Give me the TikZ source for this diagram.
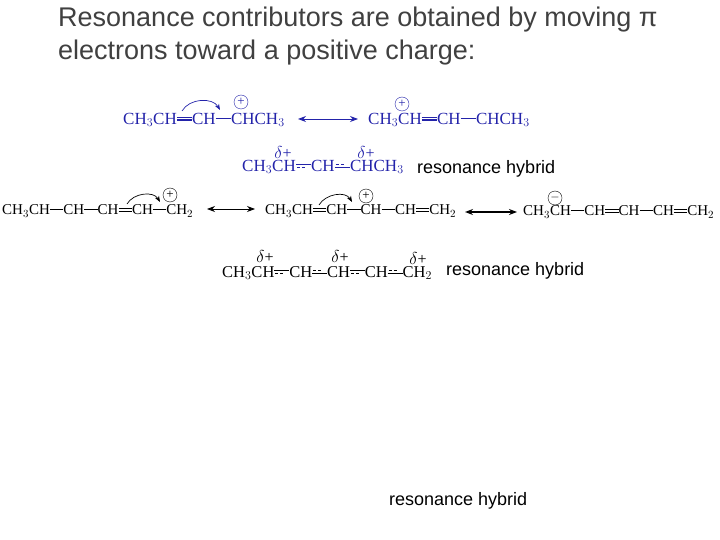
\documentclass[tikz,border=0pt]{standalone}
\usepackage{fontspec}
\setmainfont{Liberation Serif}
\newfontfamily\sans{Liberation Sans}
\usetikzlibrary{arrows.meta}
\newcommand\bS{\rule[0.3em]{0.9em}{0.06em}}
\newcommand\bD{\rlap{\rule[0.22em]{0.9em}{0.07em}}\rule[0.38em]{0.9em}{0.07em}}
\newcommand\dsh{\hbox to 0.9em{\leaders\hbox to 0.3em{\hss\rule{0.18em}{0.06em}\hss}\hfill}}
\newcommand\bP{\rlap{\rule[0.38em]{0.9em}{0.06em}}\raisebox{0.22em}{\dsh}}
\newcommand\bQ{\rlap{\raisebox{0.38em}{\dsh}}\rule[0.22em]{0.9em}{0.06em}}
\definecolor{chem}{RGB}{35,35,170}
\tikzset{mol/.style={inner sep=0pt,anchor=west,font=\fontsize{17}{17}\selectfont},
 lab/.style={inner sep=0pt,anchor=west,font=\sans\fontsize{18}{18}\selectfont},
 chg/.style={circle,draw,inner sep=0pt,minimum size=14pt,font=\fontsize{13}{13}\selectfont},
 dl/.style={inner sep=0pt,font=\fontsize{16}{16}\selectfont},
 ra/.style={{Stealth[length=8pt]}-{Stealth[length=8pt]},line width=0.9pt},
 ca/.style={-{Stealth[length=6pt]},line width=0.7pt}}
\begin{document}
\begin{tikzpicture}[x=1pt,y=-1pt]
\useasboundingbox (0,0) rectangle (720,540);
\node[lab,font=\sans\fontsize{27}{33}\selectfont,anchor=north west,align=left,text=black!75] (title) at (58,7)
 {Resonance contributors are obtained by moving π\\electrons toward a positive charge:};
\begin{scope}[chem]
\node[mol,text=chem] (a1) at (123,120) {CH$_3$CH\bD CH\bS CHCH$_3$};
\node[mol,text=chem] (a2) at (368,120) {CH$_3$CH\bD CH\bS CHCH$_3$};
\coordinate (r1a) at (298,119); \coordinate (r1b) at (358,119);
\draw[ra,chem] (r1a) -- (r1b);
\node[chg,chem] (c1) at (241,102) {+};
\node[chg,chem] (c2) at (402,104) {+};
\coordinate (k1) at (182,111); \coordinate (k2) at (220,110);
\draw[ca,chem] (k1) to[out=60,in=120] (k2);
\node[mol,text=chem] (h1) at (242,167) {CH$_3$CH\bP CH\bQ CHCH$_3$};
\node[dl,text=chem] (d1) at (283,153) {$\delta$+};
\node[dl,text=chem] (d2) at (366,153) {$\delta$+};
\end{scope}
\node[lab] (l1) at (417,169) {resonance hybrid};
\node[mol,font=\fontsize{15}{15}\selectfont] (b1) at (2,211) {CH$_3$CH\bS CH\bS CH\bD CH\bS CH$_2$};
\node[mol,font=\fontsize{15}{15}\selectfont] (b2) at (265,211) {CH$_3$CH\bD CH\bS CH\bS CH\bD CH$_2$};
\node[mol,font=\fontsize{15}{15}\selectfont] (b3) at (523,212) {CH$_3$CH\bS CH\bD CH\bS CH\bD CH$_2$};
\coordinate (r2a) at (207,209); \coordinate (r2b) at (255,209);
\draw[ra] (r2a) -- (r2b);
\coordinate (r3a) at (465,212); \coordinate (r3b) at (517,212);
\draw[ra,line width=2.2pt] (r3a) -- (r3b);
\node[chg] (c3) at (170,195) {+};
\node[chg] (c4) at (366,196) {+};
\node[chg] (c5) at (555,198) {$-$};
\coordinate (k3) at (127,204); \coordinate (k4) at (160,202);
\draw[ca] (k3) to[out=60,in=120] (k4);
\coordinate (k5) at (319,205); \coordinate (k6) at (352,202);
\draw[ca] (k5) to[out=60,in=120] (k6);
\node[mol,font=\fontsize{16.5}{16.5}\selectfont] (h2) at (222,273) {CH$_3$CH\bP CH\bQ CH\bP CH\bQ CH$_2$};
\node[dl] (d3) at (265,256) {$\delta$+};
\node[dl] (d4) at (340,256) {$\delta$+};
\node[dl] (d5) at (418,258) {$\delta$+};
\node[lab] (l2) at (446,271) {resonance hybrid};
\node[lab] (l3) at (389,501) {resonance hybrid};
\end{tikzpicture}
\end{document}
